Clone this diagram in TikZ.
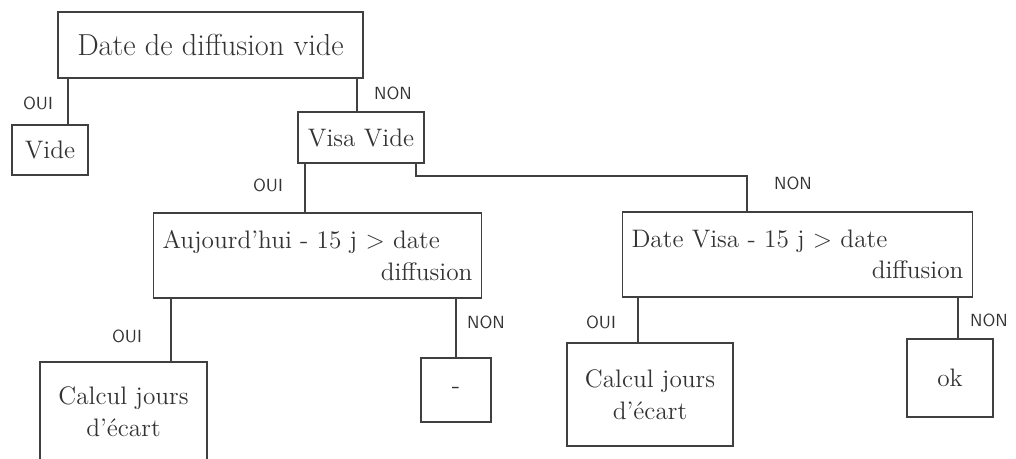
\documentclass[tikz,border=0pt]{standalone}
\usepackage{tikz}
\usepackage{xcolor}
\usetikzlibrary{calc, positioning}

\begin{document}
\begin{tikzpicture}[
  x=0.02cm, y=-0.02cm,
  tbox/.style={rectangle, draw=black!75, line width=0.8pt, text=black!80,
               font=\Large, align=center, inner sep=2pt, outer sep=0pt},
  wide/.style={tbox, align=flush left, text width=#1, inner sep=5pt},
  lbl/.style={font=\sffamily, text=black!80},
  link/.style={draw=black!75, line width=0.8pt}
]
\useasboundingbox (0,0) rectangle (1016,459);

% Root test and its two answers
\node[tbox, font=\LARGE, minimum width=6.1cm, minimum height=1.32cm]
    (root) at (210.5,45) {Date de diffusion vide};

\node[tbox, minimum width=1.52cm, minimum height=1.0cm]
    (vide) at (50,150) {Vide};

\node[tbox, minimum width=2.52cm, minimum height=1.02cm]
    (visa) at (361,137.5) {Visa Vide};

% Second level tests
\node[wide=6.2cm, minimum height=1.7cm]
    (auj) at (317.5,255.5) {Aujourd'hui - 15 j $>$ date\\\hspace*{\fill}diffusion};

\node[wide=6.64cm, minimum height=1.7cm]
    (dvisa) at (797.5,254.5) {Date Visa - 15 j $>$ date\\\hspace*{\fill}diffusion};

% Leaves
\node[tbox, minimum width=3.34cm, minimum height=2.0cm]
    (calc1) at (123.5,412) {Calcul jours\\ d'\'ecart};

\node[tbox, minimum width=1.4cm, minimum height=1.28cm]
    (tiret) at (456,390) {-};

\node[tbox, minimum width=3.32cm, minimum height=2.06cm]
    (calc2) at (650,394.5) {Calcul jours\\ d'\'ecart};

\node[tbox, minimum width=1.72cm, minimum height=1.56cm]
    (ok) at (950,378) {ok};

% Connectors
\draw[link] ([xshift=0.36cm]vide.north) -- ([xshift=0.36cm]vide.north |- root.south);
\draw[link] ([xshift=-0.08cm]visa.north) -- ([xshift=-0.08cm]visa.north |- root.south);
\draw[link] ([xshift=-1.12cm]visa.south) -- ([xshift=-1.12cm]visa.south |- auj.north);
\draw[link] ([xshift=-0.16cm]visa.south east) -- ++(0,13) -| ([xshift=-1.01cm]dvisa.north);
\draw[link] ([xshift=0.95cm]calc1.north) -- ([xshift=0.95cm]calc1.north |- auj.south);
\draw[link] (tiret.north) -- (tiret.north |- auj.south);
\draw[link] ([xshift=-0.24cm]calc2.north) -- ([xshift=-0.24cm]calc2.north |- dvisa.south);
\draw[link] ([xshift=0.16cm]ok.north) -- ([xshift=0.16cm]ok.north |- dvisa.south);

% Answer labels
\node[lbl] (l1) at (38,103) {OUI};
\node[lbl] (l2) at (393,93) {NON};
\node[lbl] (l3) at (268,185) {OUI};
\node[lbl] (l4) at (793,183) {NON};
\node[lbl] (l5) at (127,336) {OUI};
\node[lbl] (l6) at (486,322) {NON};
\node[lbl] (l7) at (601,322) {OUI};
\node[lbl] (l8) at (989,320) {NON};

\end{tikzpicture}
\end{document}
